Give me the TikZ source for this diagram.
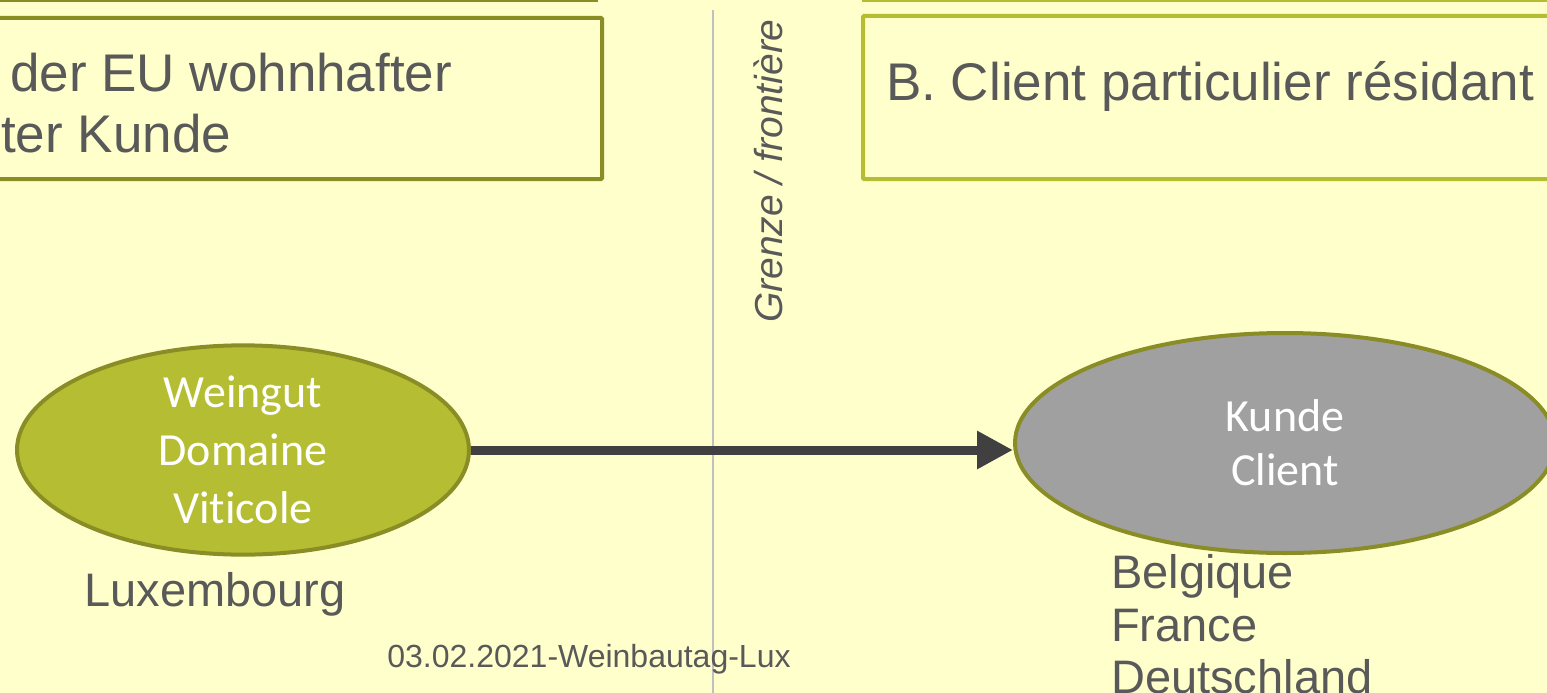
\documentclass[tikz,border=0pt]{standalone}
\usepackage{fontspec}
\setmainfont{Liberation Sans}
\newfontfamily\carl[Ligatures=NoCommon]{Carlito}
\usetikzlibrary{shapes.geometric,arrows.meta}
\definecolor{bg}{HTML}{FFFFCC}
\definecolor{olive}{HTML}{8A8C26}
\definecolor{lime}{HTML}{B5BE32}
\definecolor{txt}{HTML}{595959}
\definecolor{grayfill}{HTML}{A0A0A0}
\definecolor{arr}{HTML}{404040}
\definecolor{sep}{HTML}{C0C0C0}
\tikzset{
  lbl/.style={inner sep=0pt, text=txt, font=\fontsize{47}{53}\selectfont},
  ell/.style={ellipse, draw=olive, line width=4pt, inner sep=0pt, text=white,
              font=\carl\fontsize{46}{58}\selectfont, align=center},
  boxtxt/.style={inner sep=0pt, text=txt, font=\fontsize{53}{60}\selectfont}
}
\begin{document}
\begin{tikzpicture}[x=1pt,y=-1pt]
\useasboundingbox (0,0) rectangle (1547,693);
\fill[bg] (0,0) rectangle (1547,693);
% cut-off boxes above
\draw[olive, line width=4pt] (-10,0) -- (598,0);
\draw[lime, line width=4pt] (862,0) -- (1560,0);
% boxes
\draw[olive, line width=4pt, rounded corners=1pt] (-10,18) rectangle (602,179);
\draw[lime, line width=4pt, rounded corners=1pt] (863,16) rectangle (1560,179);
\node[boxtxt, anchor=base west] (l1) at (10,92) {der EU wohnhafter};
\node[boxtxt, anchor=base west] (l2) at (1,152) {ter Kunde};
\node[boxtxt, anchor=base west] (r1) at (886,100) {B. Client particulier résidant};
% border
\draw[sep, line width=2pt] (713,10) -- (713,693);
\node[inner sep=0pt, text=txt, rotate=90, font=\itshape\fontsize{39}{44}\selectfont] (gr) at (768,171) {Grenze / frontière};
% ellipses
\node[ell, fill=lime, minimum width=452pt, minimum height=170pt] (w) at (243,450) {Weingut\\Domaine\\Viticole};
\node[ell, fill=grayfill, minimum width=540pt, minimum height=220pt, font=\carl\fontsize{46}{54}\selectfont] (k) at (1285,443) {Kunde\\Client};
\draw[arr, line width=9pt, -{Triangle[length=36pt,width=36pt]}] (w.east) -- (w.east -| k.west);
% labels
\node[lbl, anchor=base] (lux) at (215,606) {Luxembourg};
\node[lbl, anchor=base west] (be) at (1111,588) {Belgique};
\node[lbl, anchor=base west] (fr) at (1111,641) {France};
\node[lbl, anchor=base west] (de) at (1111,693) {Deutschland};
\node[inner sep=0pt, text=txt, anchor=base, font=\fontsize{32}{36}\selectfont] (ft) at (589,667) {03.02.2021-Weinbautag-Lux};
\end{tikzpicture}
\end{document}
